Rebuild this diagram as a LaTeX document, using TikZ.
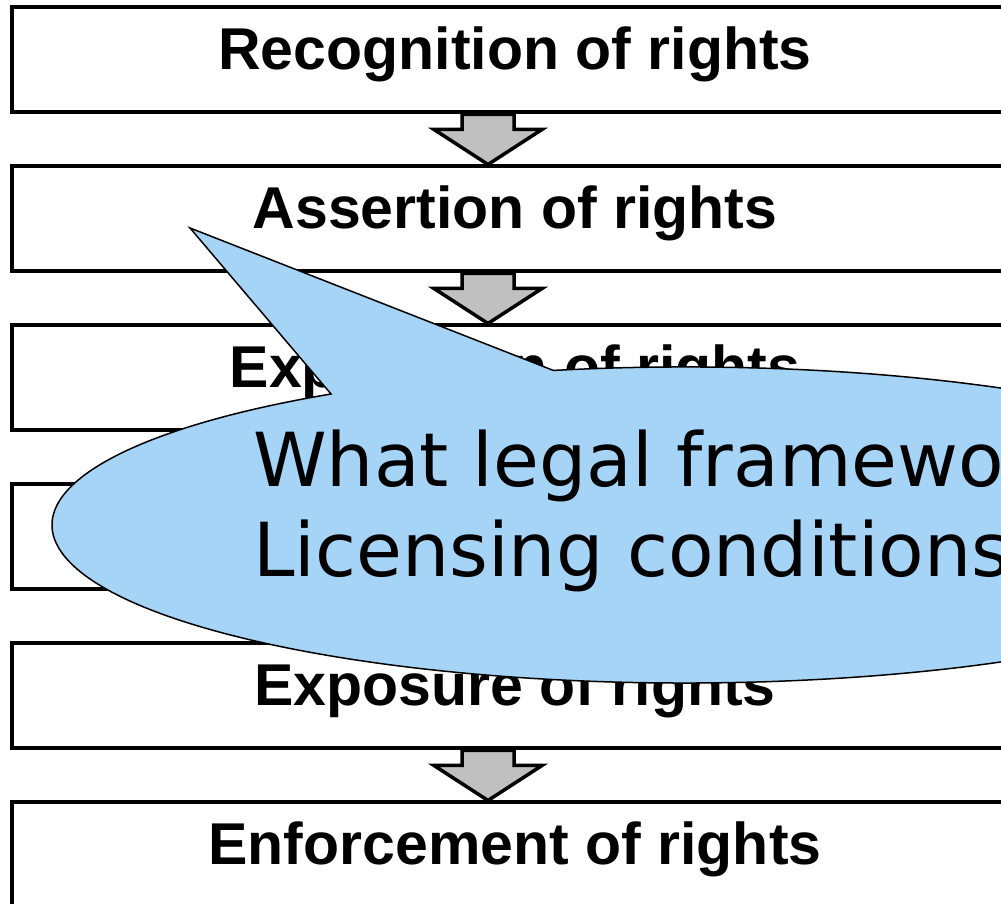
\documentclass[tikz,border=0pt]{standalone}
\usepackage{fontspec}
\setmainfont{Liberation Sans}
\newfontfamily\calloutfont{DejaVu Sans}
\usetikzlibrary{calc}
\definecolor{calloutblue}{RGB}{166,212,246}
\definecolor{arrowgray}{RGB}{192,192,192}
\begin{document}
\begin{tikzpicture}[x=1pt,y=1pt,
  stepbox/.style={draw=black, line width=4pt, fill=white, minimum width=1006pt, minimum height=105pt, inner sep=0pt},
  steplabel/.style={anchor=base, font=\fontsize{59}{62}\selectfont\bfseries, inner sep=0pt},
  blockarrow/.style={draw=black, line width=3.5pt, fill=arrowgray, line join=miter},
  callout/.style={draw=black, line width=1.5pt, fill=calloutblue},
  callouttext/.style={anchor=base west, font=\calloutfont\fontsize{74.5}{80}\selectfont, inner sep=0pt}]
\useasboundingbox (0,0) rectangle (1001,904);
\coordinate (ax) at (488,0);
% boxes
\node[stepbox] (b1) at (515,844) {};
\node[stepbox] (b2) at (515,685) {};
\node[stepbox] (b3) at (515,526) {};
\node[stepbox] (b4) at (515,367) {};
\node[stepbox] (b5) at (515,208) {};
\node[stepbox] (b6) at (515,49) {};
% labels
\node[steplabel] (t1) at ([yshift=-64pt]b1.north) {Recognition of rights};
\node[steplabel] (t2) at ([yshift=-64pt]b2.north) {Assertion of rights};
\node[steplabel] (t3) at ([yshift=-64pt]b3.north) {Expression of rights};
\node[steplabel] (t5) at ([yshift=-64pt]b5.north) {Exposure of rights};
\node[steplabel] (t6) at ([yshift=-64pt]b6.north) {Enforcement of rights};
% block arrows
\newcommand\flowarrow[2]{%
  \draw[blockarrow] ($(#1.south -| ax)+(-26,0)$) -- ++(0,-15) -- ++(-28,0)
    -- (#2.north -| ax) -- ($(#1.south -| ax)+(54,-15)$) -- ++(-28,0) -- ++(0,15) -- cycle;}
\flowarrow{b1}{b2}
\flowarrow{b2}{b3}
\flowarrow{b3}{b4}
\flowarrow{b4}{b5}
\flowarrow{b5}{b6}
% callout
\coordinate (tip) at (190,676);
\coordinate (ec) at (685,379);
\draw[callout] (tip) -- ($(ec)+(102:633 and 158)$)
  arc[start angle=102, end angle=-236, x radius=633, y radius=158] -- cycle;
\node[callouttext] (q1) at (253,417) {What legal framewo};
\node[callouttext] (q2) at (253,327) {Licensing conditions};
\end{tikzpicture}
\end{document}
